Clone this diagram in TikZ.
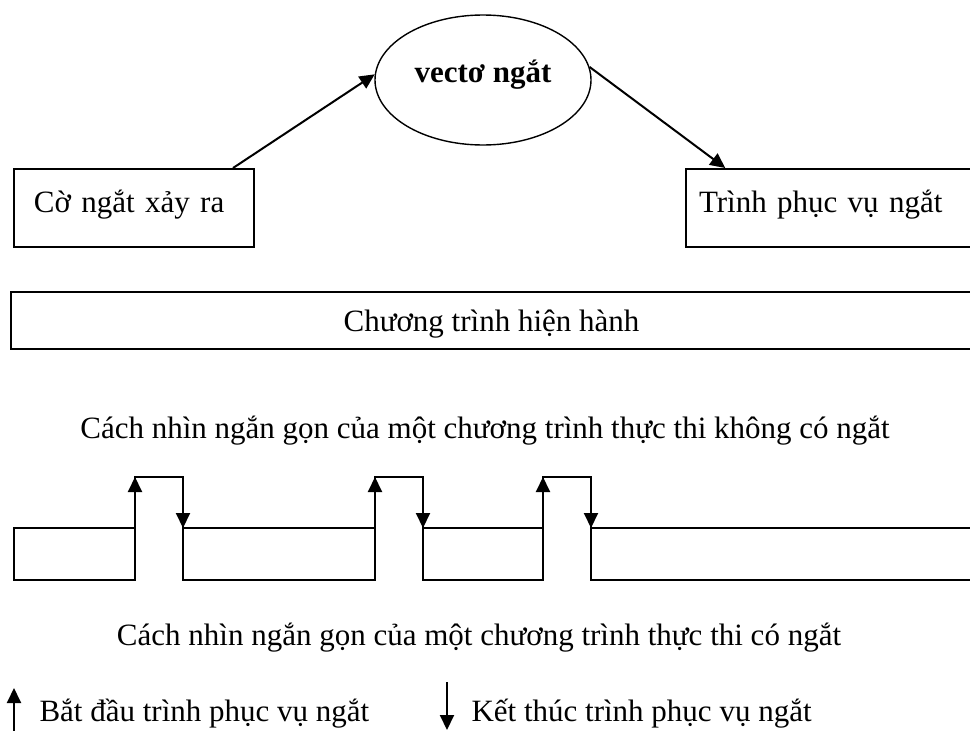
\documentclass[tikz,border=0pt]{standalone}
\usepackage{fontspec}
\setmainfont{Liberation Serif}
\usetikzlibrary{shapes.geometric,arrows.meta}
\begin{document}
\begin{tikzpicture}[x=1pt,y=-1pt,
  every node/.style={font=\fontsize{31pt}{37pt}\selectfont},
  tbox/.style={draw, line width=2pt, rectangle, anchor=north west, align=left, inner ysep=4pt, text height=39pt, text depth=31pt},
  tip/.style={-{Triangle[length=15pt,width=14pt]}, line width=2pt},
  wire/.style={line width=2pt}]
\useasboundingbox (0,0) rectangle (970,731);
\clip (0,0) rectangle (970,731);
% top row
\node[draw, ellipse, line width=1.4pt, minimum width=216pt, minimum height=130pt, inner sep=0pt, text height=18pt, text depth=14pt, font=\fontsize{31pt}{37pt}\selectfont\bfseries] (vec) at (483,80) {vectơ ngắt};
\node[tbox, inner xsep=20pt, text width=200pt] (flag) at (13,168) {Cờ ngắt xảy ra};
\node[tbox, inner xsep=13pt, text width=261pt] (serv) at (685,168) {Trình phục vụ ngắt};
\draw[tip] (flag.22) -- (vec.177);
\draw[tip] (vec.7) -- (serv.159);
% program without interrupts
\node[draw, line width=2pt, minimum width=961pt, minimum height=57pt, text height=27pt, text depth=6pt, inner sep=0pt] (prog) at (491.5,320.5) {Chương trình hiện hành};
\node[anchor=base] (plain) at (485,438) {Cách nhìn ngắn gọn của một chương trình thực thi không có ngắt};
% program with interrupts
\foreach \l/\r in {14/135, 183/375, 423/543, 591/980}
  \draw[wire] (\l,528) rectangle (\r,580);
\foreach \u/\d in {135/183, 375/423, 543/591} {
  \draw[wire] (\u,528) -- (\u,477) -- (\d,477) -- (\d,528);
  \draw[tip] (\u,500) -- (\u,477);
  \draw[tip] (\d,505) -- (\d,528);
}
\node[anchor=base] (inter) at (479,645) {Cách nhìn ngắn gọn của một chương trình thực thi có ngắt};
% legend
\node[anchor=base west] (start) at (36,721) {Bắt đầu trình phục vụ ngắt};
\node[anchor=base west] (stop) at (468,721) {Kết thúc trình phục vụ ngắt};
\draw[tip] (14,735) -- (14,688);
\draw[tip] (447,682) -- (447,730);
\end{tikzpicture}
\end{document}
